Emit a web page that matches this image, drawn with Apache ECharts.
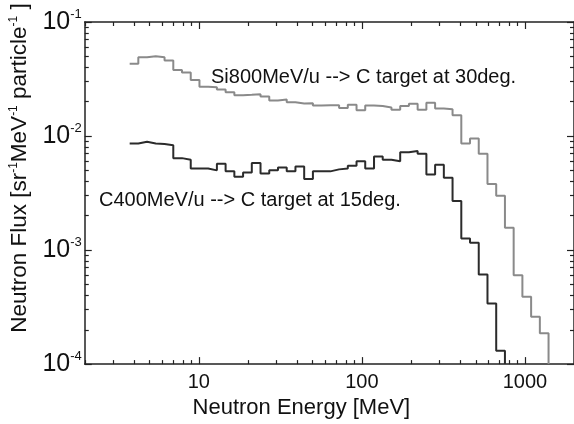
<!DOCTYPE html>
<html>
<head>
<meta charset="utf-8">
<script src="https://cdn.jsdelivr.net/npm/echarts@6/dist/echarts.min.js"></script>
<style>
html,body{margin:0;padding:0;background:#fff;}
#chart{width:574px;height:424px;}
</style>
</head>
<body>
<div id="chart"></div>
<script>
// Bin edges (MeV) shared by both histograms
const binEdges = [3.77, 4.26, 4.82, 5.45, 6.17, 6.98, 7.89, 8.93, 10.1, 11.42, 12.92, 14.61, 16.53, 18.7, 21.15, 23.92, 27.06, 30.61, 34.63, 39.17, 44.31, 50.12, 56.69, 64.12, 72.54, 82.04, 92.8, 104.9, 118.8, 134.3, 151.9, 171.9, 194.4, 219.9, 248.8, 281.4, 318.3, 360.0, 407.3, 460.7, 521.1, 589.5, 666.8, 754.3, 853.2, 965.1, 1091.7, 1234.9, 1396.4];

// Si 800 MeV/u -> C, 30 deg
const siFlux = [0.043, 0.049, 0.050, 0.049, 0.046, 0.038, 0.036, 0.031, 0.027, 0.0268,
  0.0256, 0.0242, 0.0228, 0.0230, 0.0233, 0.0222, 0.0205, 0.0209, 0.0198, 0.0193,
  0.0194, 0.0185, 0.0186, 0.0186, 0.0176, 0.0188, 0.0168, 0.0185, 0.0183, 0.0178,
  0.0170, 0.0183, 0.0192, 0.0170, 0.0196, 0.0174, 0.0172, 0.0152, 0.0086, 0.0095,
  0.0070, 0.0038, 0.0030, 0.00157, 0.00060, 0.00039, 0.00026, 0.000186];

// C 400 MeV/u -> C, 15 deg
const cFlux = [0.0086, 0.0089, 0.0086, 0.0085, 0.0083, 0.0064, 0.0062, 0.0052, 0.0052, 0.0050,
  0.0057, 0.0049, 0.0044, 0.0048, 0.0058, 0.0047, 0.0050, 0.0053, 0.0049, 0.0054,
  0.0042, 0.0049, 0.0049, 0.0051, 0.0052, 0.0055, 0.0060, 0.0052, 0.0066, 0.0062,
  0.0060, 0.0072, 0.0074, 0.0070, 0.0046, 0.0056, 0.0043, 0.0027, 0.00126, 0.00116,
  0.00061, 0.00034, 0.000131];

const xMajorTicks = [10, 100, 1000];
const xTickLabels = ['10', '100', '1000'];
const xMinorTicks = [2,3,4,5,6,7,8,9,20,30,40,50,60,70,80,90,200,300,400,500,600,700,800,900];
const yMajorTicks = [1e-4, 1e-3, 1e-2, 1e-1];
const yTickExponents = ['-4', '-3', '-2', '-1'];
const yMinorTicks = [2e-4,3e-4,4e-4,5e-4,6e-4,7e-4,8e-4,9e-4,2e-3,3e-3,4e-3,5e-3,6e-3,7e-3,8e-3,9e-3,2e-2,3e-2,4e-2,5e-2,6e-2,7e-2,8e-2,9e-2];

const X_MIN = 2, X_MAX = 2000, Y_MIN = 1e-4, Y_MAX = 1e-1;

function histPoints(values) {
  const pts = values.map((v, i) => [binEdges[i], v]);
  pts.push([binEdges[values.length], Y_MIN]);
  return pts;
}

const FONT = 'Liberation Sans, Arial, Helvetica, sans-serif';
const AXC = '#222';

function xAx(pos, major, withLabels, withName) {
  return {
    type: 'log', logBase: 10, min: X_MIN, max: X_MAX, position: pos,
    axisLine: { show: major, onZero: false, lineStyle: { color: AXC, width: 1.5 } },
    axisTick: { show: true, inside: true, length: major ? 7 : 4,
      customValues: major ? xMajorTicks : xMinorTicks,
      lineStyle: { color: AXC, width: 1.2 } },
    axisLabel: withLabels ? {
      show: true, customValues: xMajorTicks, color: '#111', fontSize: 20, fontFamily: FONT, margin: 8,
      formatter: v => xTickLabels[xMajorTicks.findIndex(t => Math.abs(t - v) / t < 1e-6)] || ''
    } : { show: false },
    splitLine: { show: false }, minorTick: { show: false }, minorSplitLine: { show: false },
    name: withName ? 'Neutron Energy [MeV]' : '',
    nameLocation: 'middle', nameGap: 30,
    nameTextStyle: { fontSize: 22, color: '#111', fontFamily: FONT, padding: [0, 56, 0, 0] }
  };
}

function yAx(pos, major, withLabels, withName) {
  return {
    type: 'log', logBase: 10, min: Y_MIN, max: Y_MAX, position: pos,
    axisLine: { show: major, onZero: false, lineStyle: { color: AXC, width: 1.5 } },
    axisTick: { show: true, inside: true, length: major ? 7 : 4,
      customValues: major ? yMajorTicks : yMinorTicks,
      lineStyle: { color: AXC, width: 1.2 } },
    axisLabel: withLabels ? {
      show: true, customValues: yMajorTicks, color: '#111', fontFamily: FONT, margin: 3,
      formatter: v => {
        const i = yMajorTicks.findIndex(t => Math.abs(t - v) / t < 1e-6);
        return i < 0 ? '' : '{b|10}{s|' + yTickExponents[i] + '}';
      },
      rich: {
        b: { fontSize: 25, fontFamily: FONT, color: '#111', lineHeight: 28 },
        s: { fontSize: 13, fontFamily: FONT, color: '#111', verticalAlign: 'top', lineHeight: 28 }
      }
    } : { show: false },
    splitLine: { show: false }, minorTick: { show: false }, minorSplitLine: { show: false },
    name: withName ? 'Neutron Flux [sr{s|-1}MeV{s|-1} particle{s|-1} ]' : '',
    nameLocation: 'middle', nameGap: 49, nameRotate: 90,
    nameTextStyle: { fontSize: 22.5, color: '#111', fontFamily: FONT, padding: [0, 0, 0, 50],
      rich: { s: { fontSize: 12, fontFamily: FONT, color: '#111', verticalAlign: 'top', lineHeight: 24 } } }
  };
}

const chart = echarts.init(document.getElementById('chart'), null, { renderer: 'canvas' });
chart.setOption({
  animation: false,
  backgroundColor: '#fff',
  grid: { left: 80, top: 22, right: -2, bottom: 56, containLabel: false },
  xAxis: [xAx('bottom', true, true, true), xAx('bottom', false, false, false),
          xAx('top', true, false, false), xAx('top', false, false, false)],
  yAxis: [yAx('left', true, true, true), yAx('left', false, false, false),
          yAx('right', true, false, false), yAx('right', false, false, false)],
  graphic: [
    { type: 'text', left: 211, top: 67, silent: true,
      style: { text: 'Si800MeV/u --> C target at 30deg.', fontSize: 20, fontFamily: FONT, fill: '#111' } },
    { type: 'text', left: 99, top: 190, silent: true,
      style: { text: 'C400MeV/u --> C target at 15deg.', fontSize: 20, fontFamily: FONT, fill: '#111' } }
  ],
  series: [
    { type: 'line', name: 'Si800', step: 'end', showSymbol: false, symbol: 'none',
      data: histPoints(siFlux), xAxisIndex: 0, yAxisIndex: 0, clip: true,
      lineStyle: { color: '#8a8a8a', width: 2 } },
    { type: 'line', name: 'C400', step: 'end', showSymbol: false, symbol: 'none',
      data: histPoints(cFlux), xAxisIndex: 0, yAxisIndex: 0, clip: true,
      lineStyle: { color: '#2b2b2b', width: 2 } }
  ]
});
</script>
</body>
</html>
